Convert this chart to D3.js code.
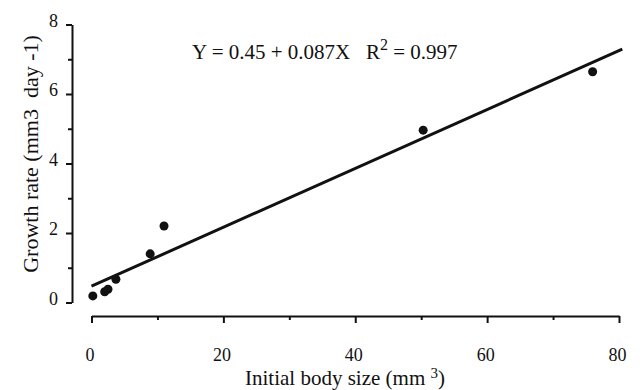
<!DOCTYPE html>
<html><head><meta charset="utf-8">
<script src="https://cdn.jsdelivr.net/npm/d3@7"></script>
<style>body{margin:0;background:#fff}svg{display:block}svg text{font-family:"Liberation Serif","DejaVu Serif",serif !important;fill:#111}</style>
</head><body>
<script>
const bodySize = [0.2, 2.0, 2.5, 3.7, 8.9, 11.0, 50.3, 76.0];
const growthRate = [0.19, 0.31, 0.38, 0.67, 1.40, 2.20, 4.96, 6.64];
const fitLineX = [0, 80.5];
const fitLineY = [0.47, 7.29];
const xTicks = [0, 20, 40, 60, 80];
const xMinorTicks = [10, 30, 50, 70];
const yTicks = [0, 2, 4, 6, 8];
const yMinorTicks = [1, 3, 5, 7];

const FONT = "Liberation Serif, DejaVu Serif, serif";
const W = 643, H = 390;
const svg = d3.select("body").append("svg").attr("width", W).attr("height", H)
  .attr("font-family", FONT);
const x = d3.scaleLinear().domain([0, 80]).range([91.5, 619]);
const y = d3.scaleLinear().domain([0, 8]).range([302.5, 24.5]);

// Y axis
const yAxisG = svg.append("g").attr("transform", "translate(72,0)");
yAxisG.call(d3.axisLeft(y).tickValues(yTicks).tickSize(6).tickSizeOuter(0).tickPadding(8).tickFormat(d3.format("d")));
yAxisG.append("g").call(d3.axisLeft(y).tickValues(yMinorTicks).tickSize(4).tickSizeOuter(0).tickFormat(""))
  .select(".domain").remove();
yAxisG.attr("font-family", FONT);
yAxisG.selectAll("line,path").attr("stroke", "#111").attr("stroke-width", 2);
yAxisG.selectAll("text").attr("font-size", 18).attr("dy", "0.1em").attr("font-family", FONT);

// X axis
const xAxisG = svg.append("g").attr("transform", "translate(0,316)");
xAxisG.call(d3.axisBottom(x).tickValues(xTicks).tickSize(7).tickSizeOuter(0).tickPadding(25).tickFormat(d3.format("d")));
xAxisG.append("g").call(d3.axisBottom(x).tickValues(xMinorTicks).tickSize(4).tickSizeOuter(0).tickFormat(""))
  .select(".domain").remove();
xAxisG.attr("font-family", FONT);
xAxisG.selectAll("line,path").attr("stroke", "#111").attr("stroke-width", 2);
xAxisG.selectAll("text").attr("font-size", 18).attr("dx", -2).attr("font-family", FONT);

// Regression line
svg.append("line")
  .attr("x1", x(fitLineX[0])).attr("y1", y(fitLineY[0]))
  .attr("x2", x(fitLineX[1])).attr("y2", y(fitLineY[1]))
  .attr("stroke", "#111").attr("stroke-width", 3);

// Points
svg.selectAll("circle.pt").data(bodySize.map((d, i) => [d, growthRate[i]])).enter()
  .append("circle").attr("class", "pt")
  .attr("cx", d => x(d[0])).attr("cy", d => y(d[1])).attr("r", 4.5).attr("fill", "#111");

// Equation
const eq = svg.append("text").attr("x", 192).attr("y", 59).attr("font-size", 21).attr("xml:space", "preserve");
eq.append("tspan").text("Y = 0.45 + 0.087X   R");
eq.append("tspan").attr("font-size", 16).attr("dy", -9).text("2");
eq.append("tspan").attr("dy", 9).text(" = 0.997");

// X title
const xt = svg.append("text").attr("x", 345).attr("y", 385).attr("text-anchor", "middle").attr("font-size", 21);
xt.append("tspan").text("Initial body size (mm ");
xt.append("tspan").attr("font-size", 15).attr("dy", -7).text("3");
xt.append("tspan").attr("dy", 7).text(")");

// Y title
svg.append("text").attr("transform", "translate(38,154) rotate(-90)").attr("text-anchor", "middle")
  .attr("font-size", 22).attr("xml:space", "preserve").text("Growth rate (mm3  day -1)");
</script>
</body></html>
